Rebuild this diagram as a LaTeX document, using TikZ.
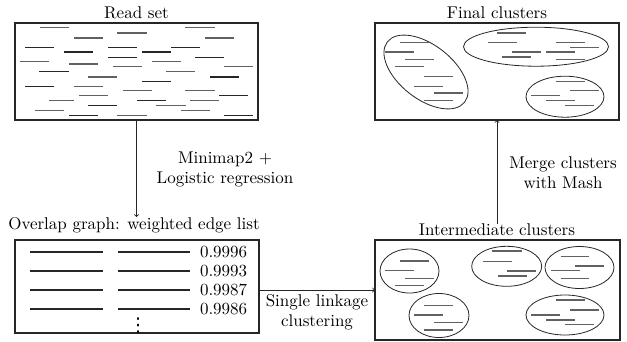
\documentclass[tikz,border=0pt]{standalone}
\usepackage{fontspec}
\setmainfont{lmroman10-regular}[Extension=.otf]
\newfontfamily\dvfont{DejaVu Sans}
\begin{document}
\begin{tikzpicture}[x=1pt,y=-1pt,
  every node/.style={font=\fontsize{17}{20}\selectfont, inner sep=0pt, outer sep=0pt},
  box/.style={draw=black!85, line width=1.2pt, inner sep=0pt, outer sep=0pt},
  lbl/.style={anchor=base},
  rl/.style={line width=1.2pt, black!62},
  rd/.style={line width=1.2pt, black!85},
  el/.style={draw=black!85, line width=0.8pt},
  conn/.style={line width=0.9pt, black!85, ->}]
\useasboundingbox (0,0) rectangle (627,341);

% boxes
\node[box, minimum width=243pt, minimum height=97pt] (read) at (136.5,71.5) {};
\node[box, minimum width=244pt, minimum height=93pt] (overlap) at (137,286.5) {};
\node[box, minimum width=245pt, minimum height=100pt] (inter) at (497.5,290) {};
\node[box, minimum width=244pt, minimum height=97pt] (final) at (497,71.5) {};

% labels
\node[lbl] (readlbl) at (136.5,18.3) {Read set};
\node[lbl] (finallbl) at (497,18.3) {Final clusters};
\node[lbl] (overlaplbl) at (134,229) {Overlap graph: weighted edge list};
\node[lbl] (interlbl) at (497,235.7) {Intermediate clusters};

% read set
\foreach \a/\b/\y/\s in {40/69/27.3/rl,185/215/27.3/rl,117/147/33/rl,74/103/38/rl,205/234/38/rl,
  25/54/47.3/rd,108/137/47.3/rd,171/200/47.3/rd,64/93/52/rd,142/171/52/rd,108/137/57.3/rd,195/224/57.3/rd,
  20/49/61.3/rl,152/181/61.3/rl,69/98/64/rl,113/142/66.3/rl,224/253/66.3/rl,39/69/71.3/rd,166/195/71.3/rl,
  88/117/77/rl,210/239/77/rd,142/171/81.3/rd,25/54/86.3/rd,74/103/86.3/rl,123/152/90.7/rl,185/215/90.7/rl,
  79/108/95.7/rl,219/248/95.7/rd,49/74/100.7/rl,137/166/100.7/rd,190/219/100.7/rl,88/117/105.7/rd,
  156/186/105.7/rl,35/64/110.7/rl,181/210/110.7/rl,69/98/115.7/rd,117/147/115.7/rl,224/253/115.7/rd}
  \draw[\s] (\a,\y) -- (\b,\y);

% edge list
\foreach \y/\w in {252/0.9996,271/0.9993,290/0.9987,309/0.9986}{
  \draw[rd] (30,\y) -- (103,\y);
  \draw[rd] (118,\y) -- (190,\y);
  \node[anchor=base west] at (200,\y+5) {\w};
}
\node[anchor=base] (dots) at (138,331) {\dvfont\fontsize{19}{22}\selectfont ⋮};

% final clusters
\begin{scope}[shift={(426,72)}, rotate=-38]
  \draw[el] (0,0) ellipse [x radius=49, y radius=27];
\end{scope}
\draw[el] (536,46.7) ellipse [x radius=72.5, y radius=19.5];
\draw[el] (565,96.7) ellipse [x radius=39, y radius=20.5];
\foreach \a/\b/\y in {400/429/42.3,385/414.3/52,405/434/59.7,395/424/66.3,424/453.3/76.3,414.3/443.3/86.3,434/463.3/93,424/453.3/100.7,
  497.3/526/33,487.7/516.7/42.5,556/585/42.3,570/599.3/47.3,511.7/540.7/52,546/575/52,502.3/530.7/57,556/585/59.7,
  556/585/81.3,570/599.3/90.7,530.7/560/95.7,546/575/100.7,565/594/105.7}
  \draw[rl] (\a,\y) -- (\b,\y);

% intermediate clusters
\draw[el] (409.5,271) ellipse [x radius=29.5, y radius=22];
\draw[el] (439,315.5) ellipse [x radius=30, y radius=22];
\draw[el] (506.7,266.3) ellipse [x radius=35, y radius=20];
\draw[el] (579.5,267.5) ellipse [x radius=34.5, y radius=21];
\draw[el] (565,315) ellipse [x radius=39, y radius=20];
\foreach \a/\b/\y in {400/429/261,385/414.3/270.7,405/434/278.3,395/424/285.7,
  424/453.3/305.7,414.3/443.3/315,434/463.3/322.7,424/453.3/330,
  492/521.7/251,482.7/511.7/261.5,506.7/536/271,497.5/526.5/276,
  560.7/589.3/256.7,575/604/266,551/580/270.7,560.7/589.3/278.3,
  556/585/300,570/599.3/310,530.7/560/315,546/575/320,565/594/324.3}
  \draw[rl] (\a,\y) -- (\b,\y);

% connectors
\draw[conn] (read.south) -- (read.south |- overlaplbl.north);
\draw[conn] (overlap.east |- inter.west) -- (inter.west);
\draw[conn] (interlbl.north) -- (final.south);

% connector labels
\node[anchor=north, align=center] (mm) at (225,151.7) {Minimap2 +\\Logistic regression};
\node[anchor=north, align=center] (sl) at (317,294.9) {Single linkage\\clustering};
\node[anchor=north, align=center] (mg) at (563,156.2) {Merge clusters\\with Mash};
\end{tikzpicture}
\end{document}
